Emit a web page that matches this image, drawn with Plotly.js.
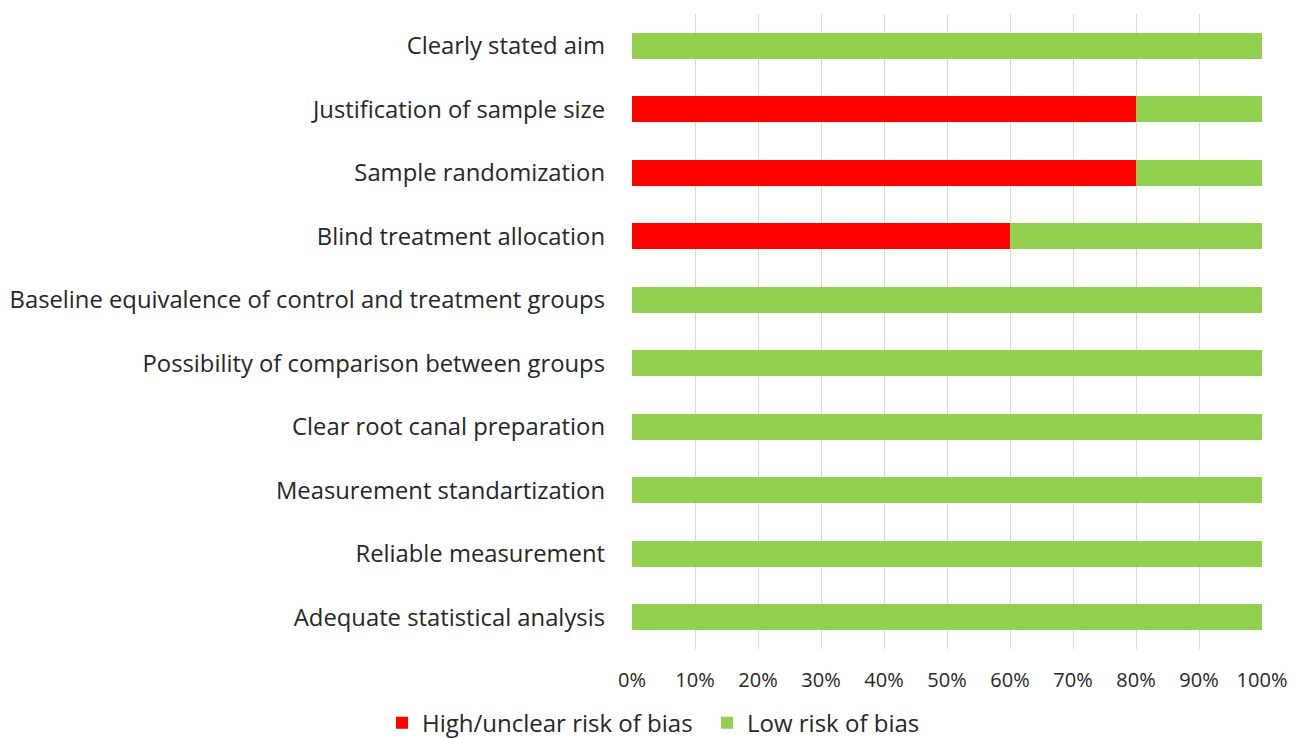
<!DOCTYPE html>
<html><head><meta charset="utf-8">
<script src="https://cdn.plot.ly/plotly-3.0.1.min.js"></script>
<style>body{margin:0;background:#fff}#chart{width:1299px;height:738px}</style>
</head><body><div id="chart"></div>
<script>
const categories = ["Clearly stated aim","Justification of sample size","Sample randomization","Blind treatment allocation","Baseline equivalence of control and treatment groups","Possibility of comparison between groups","Clear root canal preparation","Measurement standartization","Reliable measurement","Adequate statistical analysis"];
const highRisk = [0,80,80,60,0,0,0,0,0,0];
const lowRisk = [100,20,20,40,100,100,100,100,100,100];
const tickVals = [0,10,20,30,40,50,60,70,80,90,100];
const tickText = ["0%","10%","20%","30%","40%","50%","60%","70%","80%","90%","100%"];
const FONT = "'Open Sans', sans-serif";
const traces = [
 {type:'bar',orientation:'h',name:'High/unclear risk of bias',y:categories,x:highRisk,marker:{color:'#FF0000'},hoverinfo:'x+y',legend:'legend'},
 {type:'bar',orientation:'h',name:'Low risk of bias',y:categories,x:lowRisk,marker:{color:'#92D050'},hoverinfo:'x+y',legend:'legend2'}
];
const legendBase = {orientation:'h',xref:'container',yref:'container',xanchor:'left',y:0.02,yanchor:'middle',font:{size:24,family:FONT,color:'#262626'},itemwidth:20,bgcolor:'rgba(0,0,0,0)'};
const layout = {
 width:1299,height:738,barmode:'stack',bargap:0.59,
 margin:{l:632,r:37,t:14,b:89,autoexpand:false},
 paper_bgcolor:'#fff',plot_bgcolor:'#fff',
 font:{family:FONT,color:'#262626'},
 xaxis:{range:[0,100],tickvals:tickVals,ticktext:tickText,showgrid:true,gridcolor:'#D9D9D9',gridwidth:1,zeroline:false,showline:false,tickfont:{size:20,family:FONT,color:'#262626'},ticks:'',ticklabelstandoff:17,automargin:false,fixedrange:true},
 yaxis:{autorange:'reversed',type:'category',showgrid:false,zeroline:false,showline:false,tickfont:{size:23.8,family:FONT,color:'#262626'},ticks:'',ticklabelstandoff:26,automargin:false,fixedrange:true},
 legend:Object.assign({},legendBase,{x:382/1299}),
 legend2:Object.assign({},legendBase,{x:707/1299}),
 showlegend:true
};
Plotly.newPlot('chart',traces,layout,{displayModeBar:false,staticPlot:true});
</script></body></html>
